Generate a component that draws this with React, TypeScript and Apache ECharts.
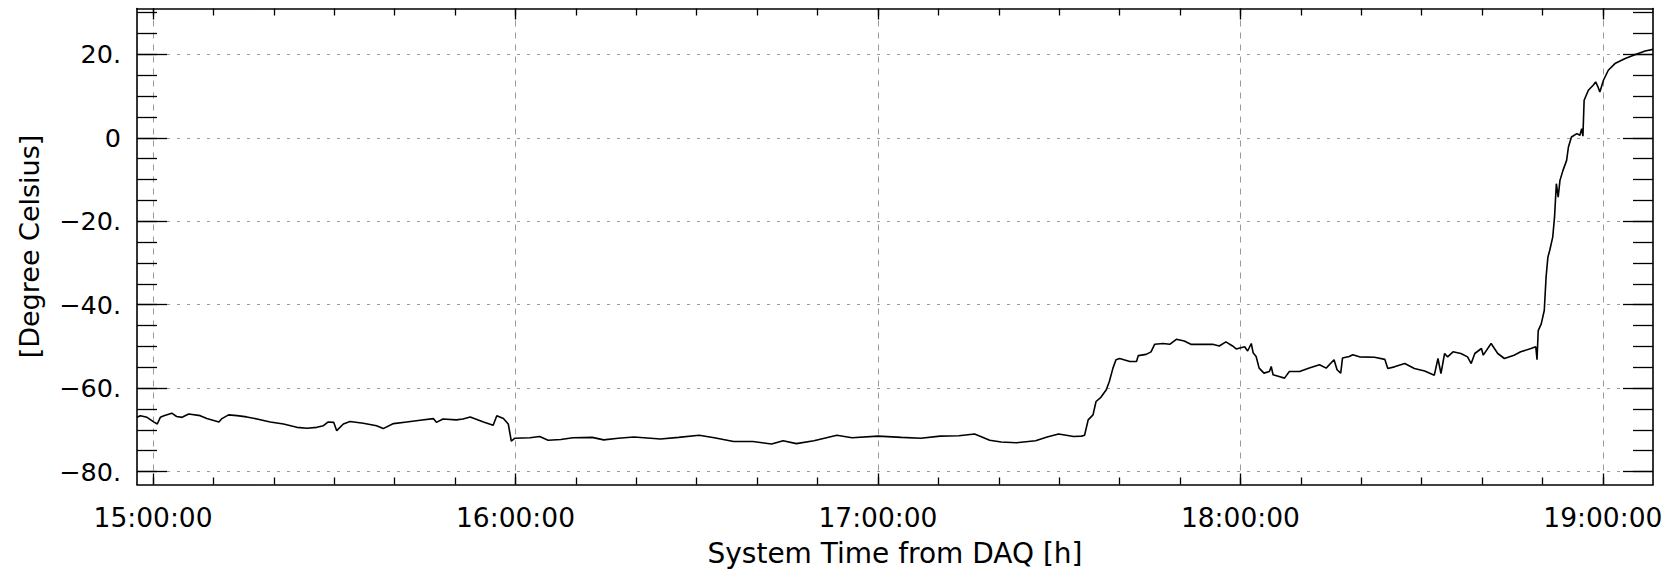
import React, { useEffect, useRef } from "react";
import * as echarts from "echarts";

// time in minutes after 15:00:00
const timeMin = [
  -2.66, -2.1, -1.0, 0.1, 0.7, 1.2, 1.8, 3.1, 3.9, 4.8, 5.9, 7.8, 8.9, 10.9, 11.4, 12.5, 13.9, 15.5, 17.2, 19.4,
  21.6, 23.8, 25.5, 27.1, 28.2, 29.0, 29.9, 30.4, 31.5, 32.6, 34.8, 37.0, 38.1, 39.8, 42.0, 44.2, 46.4, 46.9, 48.0, 50.2,
  51.3, 52.5, 54.7, 56.3, 56.9, 58.0, 58.8, 59.1, 59.3, 59.9, 62.4, 64.0, 65.4, 67.5, 69.5, 72.7, 74.6, 77.0, 79.6, 84.0,
  87.0, 90.4, 92.9, 96.1, 99.3, 102.4, 104.3, 106.5, 109.4, 113.2, 115.7, 120.0, 123.9, 127.1, 130.3, 133.4, 136.0, 138.5, 140.4, 142.9,
  146.1, 148.0, 149.9, 152.4, 153.7, 154.2, 154.8, 155.6, 156.1, 156.9, 157.8, 158.3, 158.9, 159.4, 160.0, 161.7, 162.8, 163.1, 164.4, 165.2,
  165.8, 167.2, 168.3, 169.4, 170.7, 171.8, 173.8, 175.4, 176.5, 177.6, 178.7, 179.3, 180.7, 181.2, 181.8, 182.1, 182.6, 183.1, 183.9, 184.8,
  185.1, 185.4, 186.4, 187.3, 188.1, 189.8, 191.4, 193.1, 194.2, 195.5, 196.0, 196.6, 196.9, 198.0, 198.6, 199.7, 202.2, 203.9, 204.4, 205.5,
  207.2, 208.8, 210.5, 212.1, 212.7, 213.2, 213.8, 214.3, 215.2, 216.5, 217.6, 218.2, 218.8, 219.9, 220.2, 221.5, 222.6, 223.7, 225.3, 226.4,
  228.1, 228.9, 229.1, 229.3, 229.8, 230.3, 230.6, 230.9, 231.2, 231.7, 232.0, 232.3, 232.6, 232.9, 233.4, 234.0, 234.3, 234.8, 235.7, 236.2,
  236.5, 236.7, 236.9, 237.6, 238.4, 238.8, 239.2, 239.5, 240.1, 240.9, 242.0, 243.7, 245.3, 247.0, 248.3,
];

const tempC = [
  -67.0, -66.6, -67.0, -68.1, -68.6, -67.0, -66.6, -66.0, -66.8, -67.0, -66.2, -66.6, -67.3, -68.1, -67.3, -66.4, -66.6, -66.9, -67.4, -68.1,
  -68.6, -69.4, -69.6, -69.4, -69.0, -68.1, -68.2, -70.2, -68.6, -68.0, -68.4, -69.0, -69.7, -68.5, -68.1, -67.7, -67.3, -68.2, -67.4, -67.6,
  -67.4, -66.9, -68.1, -68.9, -66.6, -67.3, -68.6, -71.0, -72.7, -72.0, -71.9, -71.6, -72.5, -72.3, -71.9, -71.8, -72.4, -72.0, -71.7, -72.2,
  -71.8, -71.3, -71.9, -72.8, -72.8, -73.4, -72.6, -73.3, -72.6, -71.3, -71.9, -71.5, -71.8, -72.0, -71.5, -71.4, -71.0, -72.5, -72.9, -73.1,
  -72.6, -71.7, -71.0, -71.6, -71.5, -71.3, -67.6, -66.4, -63.2, -62.2, -60.4, -58.4, -55.2, -53.2, -52.9, -53.6, -53.6, -52.2, -51.9, -51.3,
  -49.5, -49.3, -49.5, -48.3, -48.7, -49.5, -49.5, -49.5, -49.9, -48.9, -49.9, -50.6, -50.1, -51.1, -49.3, -51.5, -52.4, -55.2, -56.4, -56.0,
  -54.8, -56.8, -57.2, -57.6, -56.0, -56.0, -55.2, -54.4, -55.2, -53.2, -55.6, -56.4, -52.8, -52.4, -52.0, -52.5, -52.6, -53.1, -55.3, -54.9,
  -54.1, -55.3, -55.9, -56.9, -52.9, -56.5, -51.7, -52.5, -51.3, -51.7, -52.5, -54.1, -51.7, -50.5, -52.1, -49.3, -51.7, -52.9, -52.1, -51.3,
  -50.5, -50.1, -53.2, -46.2, -44.6, -41.4, -33.4, -28.6, -27.0, -23.8, -19.0, -11.0, -14.2, -10.2, -7.8, -5.4, -2.2, 0.2, 1.0, 0.6,
  2.2, 0.4, 9.0, 11.4, 12.6, 13.4, 12.2, 11.0, 13.8, 16.2, 17.8, 19.0, 19.9, 20.8, 21.2,
];

const xMinorTicks = [0, 10, 20, 30, 40, 50, 60, 70, 80, 90, 100, 110, 120, 130, 140, 150, 160, 170, 180, 190, 200, 210, 220, 230, 240];
const xMajorTicks = [0, 60, 120, 180, 240];
const xTickLabels = ["15:00:00", "16:00:00", "17:00:00", "18:00:00", "19:00:00"];
const yMinorTicks = [-80, -75, -70, -65, -60, -55, -50, -45, -40, -35, -30, -25, -20, -15, -10, -5, 0, 5, 10, 15, 20, 25, 30];
const yMajorTicks = [-80, -60, -40, -20, 0, 20];
const yTickLabels = ["\u221280.", "\u221260.", "\u221240.", "\u221220.", "0", "20."];

const X_MIN = -2.66;
const X_MAX = 248.3;
const Y_MIN = -83.1;
const Y_MAX = 31.0;

const FONT = "DejaVu Sans";

export default function App() {
  const ref = useRef<HTMLDivElement>(null);
  useEffect(() => {
    if (!ref.current) return;
    const chart = echarts.init(ref.current, undefined, { renderer: "svg" });
    const data = timeMin.map((t, i) => [t, tempC[i]]);
    const black = "#000";
    const baseX = {
      type: "value" as const,
      min: X_MIN,
      max: X_MAX,
      gridIndex: 0,
    };
    const baseY = {
      type: "value" as const,
      min: Y_MIN,
      max: Y_MAX,
      gridIndex: 0,
    };
    const xLabel = (v: number) => {
      const i = xMajorTicks.indexOf(Math.round(v));
      return i >= 0 ? xTickLabels[i] : "";
    };
    const yLabel = (v: number) => {
      const i = yMajorTicks.indexOf(Math.round(v));
      return i >= 0 ? yTickLabels[i] : "";
    };
    const line = (show: boolean) => ({ show, onZero: false, lineStyle: { color: black, width: 1.6 } });
    const tickStyle = { color: black, width: 1.3 };
    chart.setOption({
      animation: false,
      backgroundColor: "#fff",
      textStyle: { fontFamily: FONT, color: black },
      grid: { left: 137, right: 24, top: 8.5, bottom: 88.5, containLabel: false },
      xAxis: [
        {
          ...baseX,
          position: "bottom",
          axisLine: line(true),
          axisTick: { show: true, inside: true, length: 7, customValues: xMinorTicks, lineStyle: tickStyle },
          axisLabel: {
            show: true,
            customValues: xMajorTicks,
            formatter: xLabel,
            fontSize: 26.5,
            color: black,
            margin: 19,
            fontFamily: FONT,
          },
          splitLine: { show: false },
          name: "System Time from DAQ [h]",
          nameLocation: "middle",
          nameGap: 55,
          nameTextStyle: { fontSize: 28, color: black, fontFamily: FONT },
        },
        {
          ...baseX,
          position: "bottom",
          axisLine: line(false),
          axisTick: { show: true, inside: true, length: 11, customValues: xMajorTicks, lineStyle: tickStyle },
          axisLabel: { show: false },
          splitLine: { show: true, lineStyle: { color: "#9a9a9a", width: 1, type: [6, 6] } },
        },
        {
          ...baseX,
          position: "top",
          axisLine: line(true),
          axisTick: { show: true, inside: true, length: 7, customValues: xMinorTicks, lineStyle: tickStyle },
          axisLabel: { show: false },
          splitLine: { show: false },
        },
        {
          ...baseX,
          position: "top",
          axisLine: line(false),
          axisTick: { show: true, inside: true, length: 11, customValues: xMajorTicks, lineStyle: tickStyle },
          axisLabel: { show: false },
          splitLine: { show: false },
        },
      ],
      yAxis: [
        {
          ...baseY,
          position: "left",
          axisLine: line(true),
          axisTick: { show: true, inside: true, length: 20, customValues: yMinorTicks, lineStyle: tickStyle },
          axisLabel: {
            show: true,
            customValues: yMajorTicks,
            formatter: yLabel,
            fontSize: 25.5,
            color: black,
            margin: 16,
            fontFamily: FONT,
          },
          splitLine: { show: false },
          name: "[Degree Celsius]",
          nameLocation: "middle",
          nameGap: 94,
          nameRotate: 90,
          nameTextStyle: { fontSize: 27, color: black, fontFamily: FONT },
        },
        {
          ...baseY,
          position: "left",
          axisLine: line(false),
          axisTick: { show: true, inside: true, length: 30, customValues: yMajorTicks, lineStyle: tickStyle },
          axisLabel: { show: false },
          splitLine: { show: true, lineStyle: { color: "#9a9a9a", width: 1, type: [3, 7] } },
        },
        {
          ...baseY,
          position: "right",
          axisLine: line(true),
          axisTick: { show: true, inside: true, length: 20, customValues: yMinorTicks, lineStyle: tickStyle },
          axisLabel: { show: false },
          splitLine: { show: false },
        },
        {
          ...baseY,
          position: "right",
          axisLine: line(false),
          axisTick: { show: true, inside: true, length: 30, customValues: yMajorTicks, lineStyle: tickStyle },
          axisLabel: { show: false },
          splitLine: { show: false },
        },
      ],
      series: [
        {
          type: "line",
          xAxisIndex: 0,
          yAxisIndex: 0,
          data,
          showSymbol: false,
          symbol: "none",
          lineStyle: { color: black, width: 1.6 },
          z: 5,
        },
      ],
    });
    return () => chart.dispose();
  }, []);
  return (
    <div
      ref={ref}
      style={{ position: "absolute", left: 0, top: 0, width: 1677, height: 573, background: "#fff" }}
    />
  );
}
